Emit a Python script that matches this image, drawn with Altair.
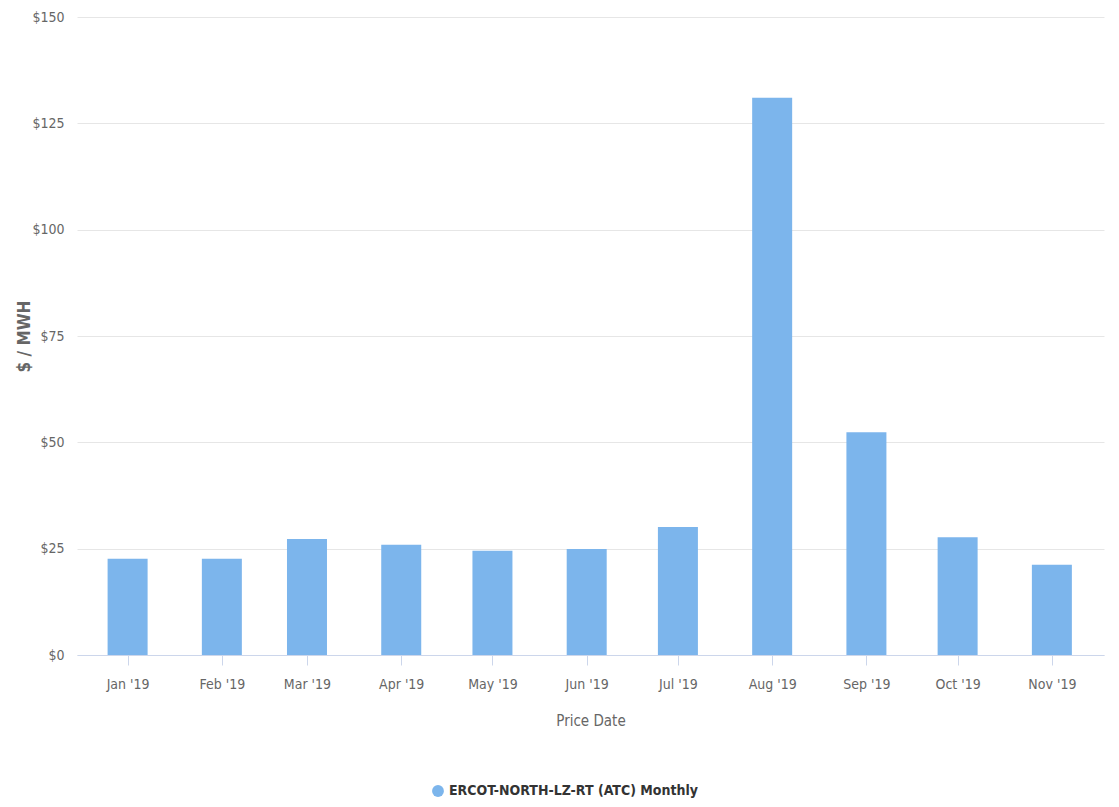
import altair as alt
import pandas as pd

months = ["2019-01-01", "2019-02-01", "2019-03-01", "2019-04-01", "2019-05-01", "2019-06-01",
          "2019-07-01", "2019-08-01", "2019-09-01", "2019-10-01", "2019-11-01"]
values = [22.6, 22.6, 27.3, 25.9, 24.5, 24.9, 30.1, 131.0, 52.4, 27.7, 21.2]
series_name = "ERCOT-NORTH-LZ-RT (ATC) Monthly"
y_ticks = [0, 25, 50, 75, 100, 125, 150]

df = pd.DataFrame({"date": months, "value": values, "series": [series_name] * len(months)})

FONT = "DejaVu Sans Condensed, Liberation Sans Narrow, Roboto, sans-serif"

tick_dates = [alt.DateTime(year=2019, month=m, date=1, utc=True) for m in range(1, 12)]

chart = alt.Chart(df).mark_bar(width=40, color="#7cb5ec").encode(
    x=alt.X(
        "date:T",
        scale=alt.Scale(
            type="utc",
            nice=False,
            domain=[alt.DateTime(year=2018, month=12, date=17, utc=True),
                    alt.DateTime(year=2019, month=11, date=16, hours=12, utc=True)],
        ),
        axis=alt.Axis(
            title="Price Date",
            labelExpr="utcFormat(datum.value, \"%b '%y\")",
            values=tick_dates,
            grid=False,
            domainColor="#ccd6eb",
            tickColor="#ccd6eb",
            tickSize=10,
            labelPadding=12,
            labelColor="#666666",
            labelFontSize=14,
            labelFont=FONT,
            titleColor="#666666",
            titleFontSize=15,
            titleFontWeight="normal",
            titleFont=FONT,
            titlePadding=22,
        ),
    ),
    y=alt.Y(
        "value:Q",
        scale=alt.Scale(domain=[0, 150], nice=False),
        axis=alt.Axis(
            title="$ / MWH",
            values=y_ticks,
            labelExpr="'$' + datum.value",
            domain=False,
            ticks=False,
            gridColor="#e6e6e6",
            labelPadding=13,
            labelColor="#666666",
            labelFontSize=14,
            labelFont=FONT,
            titleColor="#666666",
            titleFontSize=17,
            titleFontWeight="bold",
            titleFont=FONT,
            titleX=-53,
            titleY=319,
            titleAngle=-90,
            titleAlign="center",
            titleBaseline="middle",
        ),
    ),
    color=alt.Color(
        "series:N",
        scale=alt.Scale(range=["#7cb5ec"]),
        legend=alt.Legend(
            title=None,
            orient="none",
            legendX=354,
            legendY=767,
            symbolType="circle",
            symbolSize=140,
            symbolStrokeWidth=0,
            labelLimit=500,
            labelFont=FONT,
            labelFontSize=14,
            labelFontWeight="bold",
            labelColor="#333333",
        ),
    ),
).properties(
    width=1027,
    height=638,
    autosize=alt.AutoSizeParams(type="none"),
    padding={"left": 69, "top": 9, "right": 7, "bottom": 144},
).configure_view(stroke=None)

chart.save("out.html", embed_options={"renderer": "svg", "actions": False})
